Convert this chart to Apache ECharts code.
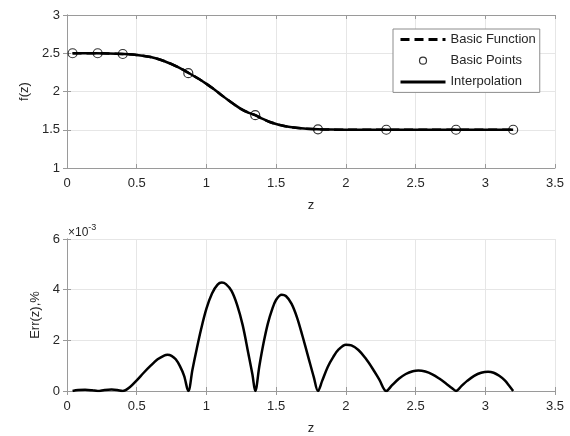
<!DOCTYPE html>
<html>
<head>
<meta charset="utf-8">
<script src="https://cdn.jsdelivr.net/npm/echarts@6/dist/echarts.min.js"></script>
<style>
  html, body { margin: 0; padding: 0; background: #fff; }
  #main { width: 570px; height: 436px; }
</style>
</head>
<body>
<div id="main"></div>
<script>
// function curve f(z)
const fZ = [0.04, 0.1, 0.2, 0.3, 0.4, 0.5, 0.6, 0.7, 0.8, 0.87, 0.95, 1.0, 1.05, 1.1, 1.15, 1.2, 1.25, 1.3, 1.35, 1.4, 1.45, 1.5, 1.55, 1.6, 1.7, 1.8, 1.9, 2.0, 2.2, 2.4, 2.6, 2.8, 3.0, 3.2]
const fVal = [2.5, 2.5, 2.5, 2.497, 2.49, 2.478, 2.45, 2.395, 2.315, 2.245, 2.16, 2.1, 2.035, 1.965, 1.895, 1.83, 1.77, 1.725, 1.69, 1.645, 1.605, 1.575, 1.552, 1.535, 1.515, 1.506, 1.502, 1.5, 1.5, 1.5, 1.5, 1.5, 1.5, 1.5]

// basic points
const basicZ = [0.04, 0.22, 0.40, 0.87, 1.35, 1.80, 2.29, 2.79, 3.20]
const basicF = [2.5, 2.5, 2.49, 2.24, 1.69, 1.505, 1.5, 1.5, 1.5]

// error curve, units of 1e-3 %
const errZ = [0.04, 0.08, 0.13, 0.18, 0.22, 0.27, 0.32, 0.36, 0.40,
  0.45, 0.50, 0.55, 0.60, 0.65, 0.70, 0.72, 0.75, 0.78, 0.81, 0.84, 0.87,
  0.90, 0.93, 0.96, 1.00, 1.04, 1.08, 1.11, 1.14, 1.18, 1.22, 1.26, 1.30, 1.33, 1.35,
  1.38, 1.41, 1.44, 1.47, 1.50, 1.54, 1.57, 1.61, 1.65, 1.69, 1.73, 1.77, 1.80,
  1.83, 1.87, 1.91, 1.95, 2.00, 2.04, 2.09, 2.14, 2.19, 2.24, 2.29,
  2.33, 2.38, 2.43, 2.48, 2.52, 2.57, 2.62, 2.67, 2.72, 2.76, 2.79,
  2.83, 2.87, 2.92, 2.97, 3.02, 3.06, 3.10, 3.14, 3.17, 3.20]
const errVal = [0, 0.04, 0.05, 0.03, 0, 0.04, 0.06, 0.04, 0,
  0.15, 0.42, 0.72, 1.0, 1.25, 1.41, 1.43, 1.39, 1.25, 0.98, 0.6, 0,
  0.85, 1.65, 2.4, 3.25, 3.85, 4.2, 4.28, 4.22, 3.95, 3.4, 2.6, 1.5, 0.65, 0,
  1.0, 1.9, 2.65, 3.2, 3.6, 3.8, 3.75, 3.45, 2.9, 2.15, 1.35, 0.55, 0,
  0.4, 0.95, 1.35, 1.65, 1.83, 1.8, 1.62, 1.3, 0.9, 0.45, 0,
  0.22, 0.48, 0.67, 0.78, 0.81, 0.77, 0.66, 0.49, 0.29, 0.12, 0,
  0.2, 0.4, 0.6, 0.72, 0.76, 0.72, 0.6, 0.42, 0.22, 0]

const zip = (a, b) => a.map((v, i) => [v, b[i]])

const font = 'Liberation Sans, Arial, sans-serif'
const txt = '#262626'
const boxColor = '#9a9a9a'
const gridLine = { show: true, lineStyle: { color: '#e6e6e6', width: 1 } }
const tick = { show: true, inside: true, length: 4, lineStyle: { color: boxColor } }

const xAxisBase = (gi) => ({
  type: 'value', gridIndex: gi, min: 0, max: 3.5, interval: 0.5,
  name: 'z', nameLocation: 'middle', nameGap: 31,
  nameTextStyle: { color: txt, fontSize: 13, fontFamily: font },
  axisLine: { show: true, lineStyle: { color: boxColor } },
  axisTick: tick,
  axisLabel: { color: txt, fontSize: 13, fontFamily: font, margin: 9 },
  splitLine: gridLine
})
const xAxisTop = (gi) => ({
  type: 'value', gridIndex: gi, min: 0, max: 3.5, interval: 0.5, position: 'top',
  axisLine: { show: true, lineStyle: { color: boxColor } },
  axisTick: tick, axisLabel: { show: false }, splitLine: { show: false }
})
const yRight = (gi, min, max, interval) => ({
  type: 'value', gridIndex: gi, min: min, max: max, interval: interval, position: 'right',
  axisLine: { show: true, lineStyle: { color: boxColor } },
  axisTick: tick, axisLabel: { show: false }, splitLine: { show: false }
})

const chart = echarts.init(document.getElementById('main'))

const option = {
  backgroundColor: '#fff',
  animation: false,
  grid: [
    { left: 67, right: 15, top: 15, height: 153 },
    { left: 67, right: 15, top: 239, height: 153 }
  ],
  xAxis: [xAxisBase(0), xAxisTop(0), xAxisBase(1), xAxisTop(1)],
  yAxis: [
    {
      type: 'value', gridIndex: 0, min: 1, max: 3, interval: 0.5,
      name: 'f(z)', nameLocation: 'middle', nameGap: 33,
      nameTextStyle: { color: txt, fontSize: 13, fontFamily: font },
      axisLine: { show: true, lineStyle: { color: boxColor } },
      axisTick: tick,
      axisLabel: { color: txt, fontSize: 13, fontFamily: font, margin: 7 },
      splitLine: gridLine
    },
    yRight(0, 1, 3, 0.5),
    {
      type: 'value', gridIndex: 1, min: 0, max: 6, interval: 2,
      name: 'Err(z),%', nameLocation: 'middle', nameGap: 22,
      nameTextStyle: { color: txt, fontSize: 13, fontFamily: font },
      axisLine: { show: true, lineStyle: { color: boxColor } },
      axisTick: tick,
      axisLabel: { color: txt, fontSize: 13, fontFamily: font, margin: 7 },
      splitLine: gridLine
    },
    yRight(1, 0, 6, 2)
  ],
  legend: {
    orient: 'vertical',
    left: 393, top: 29,
    padding: [4, 4, 4, 5],
    itemWidth: 45, itemHeight: 13, itemGap: 5.7,
    borderColor: '#8c8c8c', borderWidth: 1,
    backgroundColor: '#fff',
    textStyle: { color: txt, fontSize: 13, fontFamily: font },
    data: [
      { name: 'Basic Function', itemStyle: { opacity: 0 }, lineStyle: { width: 3 } },
      {
        name: 'Basic Points',
        icon: 'path://M0,0L0,0M45,13L45,13M26,6.5A3.5,3.5 0 1,0 19,6.5A3.5,3.5 0 1,0 26,6.5Z',
        itemStyle: { color: 'none', borderColor: '#000', borderWidth: 1.2 }
      },
      { name: 'Interpolation', itemStyle: { opacity: 0 }, lineStyle: { width: 3 } }
    ]
  },
  graphic: [
    {
      type: 'text', left: 68, top: 223,
      style: {
        text: '{a|×10}{b|-3}',
        rich: {
          a: { fontSize: 12, fontFamily: font, fill: txt, padding: [6, 0, 0, 0] },
          b: { fontSize: 9, fontFamily: font, fill: txt, padding: [0, 0, 4, 0] }
        }
      }
    }
  ],
  series: [
    {
      name: 'Basic Function', type: 'line', xAxisIndex: 0, yAxisIndex: 0,
      data: zip(fZ, fVal), smooth: 0.3, symbol: 'none',
      lineStyle: { color: '#000', width: 2.5, type: [9, 5] },
      itemStyle: { color: '#000' }, z: 2
    },
    {
      name: 'Basic Points', type: 'scatter', xAxisIndex: 0, yAxisIndex: 0,
      data: zip(basicZ, basicF), symbol: 'circle', symbolSize: 9,
      itemStyle: { color: 'none', borderColor: '#000', borderWidth: 1.2 }, z: 4
    },
    {
      name: 'Interpolation', type: 'line', xAxisIndex: 0, yAxisIndex: 0,
      data: zip(fZ, fVal), smooth: 0.3, symbol: 'none',
      lineStyle: { color: '#000', width: 2.5 },
      itemStyle: { color: '#000' }, z: 3
    },
    {
      name: 'Err', type: 'line', xAxisIndex: 2, yAxisIndex: 2,
      data: zip(errZ, errVal), smooth: 0.35, symbol: 'none',
      lineStyle: { color: '#000', width: 2.5 }, z: 3
    }
  ]
}

chart.setOption(option)
</script>
</body>
</html>
